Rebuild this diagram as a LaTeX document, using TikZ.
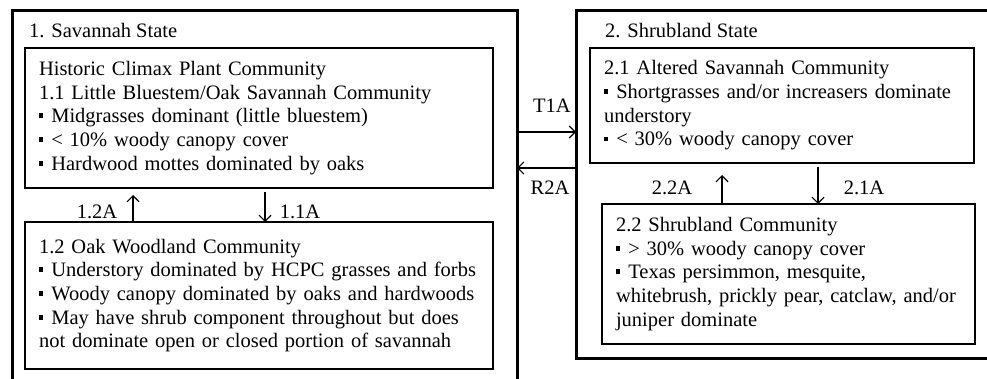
\documentclass[tikz,border=0pt]{standalone}
\usepackage{fontspec}
\setmainfont{Liberation Serif}
\usetikzlibrary{arrows.meta}
\newcommand\sqb{\raisebox{0.22em}{\rule{0.2em}{0.24em}}\hspace{0.4em}}
\begin{document}
\begin{tikzpicture}[x=1pt,y=-1pt,
  font=\fontsize{20.5}{23.7}\selectfont,
  outerbox/.style={draw, line width=3pt, rectangle, outer sep=0pt, anchor=north west, inner sep=0pt},
  innerbox/.style={draw, line width=1.4pt, rectangle, outer sep=0pt, anchor=north west,
     inner xsep=14pt, inner ysep=0pt, align=left},
  arr/.style={line width=1.1pt, -{Straight Barb[length=6pt,width=12pt,line width=1.1pt]}},
  lbl/.style={inner sep=0pt}
]
\useasboundingbox (0,0) rectangle (987,379);
\fill[white] (0,0) rectangle (987,379);
\clip (0,0) rectangle (987,379);

% outer state boxes
\node[outerbox, minimum width=505pt, minimum height=420pt] (s1) at (12,11) {};
\node[outerbox, minimum width=440pt, minimum height=347pt] (s2) at (576,11) {};

\node[lbl, anchor=base west] (t1) at (29,38) {1. Savannah State};
\node[lbl, anchor=base west] (t2) at (605,38) {2. Shrubland State};

% community boxes
\node[innerbox, text width=440pt, minimum height=140pt] (b11) at (25,48)
 {Historic Climax Plant Community\\
  1.1 Little Bluestem/Oak Savannah Community\\
  \sqb Midgrasses dominant (little bluestem)\\
  \sqb < 10\% woody canopy cover\\
  \sqb Hardwood mottes dominated by oaks};

\node[innerbox, text width=440pt, minimum height=147pt] (b12) at (25,222)
 {1.2 Oak Woodland Community\\
  \sqb Understory dominated by HCPC grasses and forbs\\
  \sqb Woody canopy dominated by oaks and hardwoods\\
  \sqb May have shrub component throughout but does\\
  not dominate open or closed portion of savannah};

\node[innerbox, text width=356pt, minimum height=115pt] (b21) at (590,48)
 {2.1 Altered Savannah Community\\
  \sqb Shortgrasses and/or increasers dominate\\
  understory\\
  \sqb < 30\% woody canopy cover};

\node[innerbox, text width=345pt, minimum height=140pt] (b22) at (602,204)
 {2.2 Shrubland Community\\
  \sqb > 30\% woody canopy cover\\
  \sqb Texas persimmon, mesquite,\\
  whitebrush, prickly pear, catclaw, and/or\\
  juniper dominate};

% transitions between states
\draw[arr] (s1.east |- 0,132) -- (s2.west |- 0,132);
\draw[arr] (s2.west |- 0,168) -- (s1.east |- 0,168);
\node[lbl] (lt1a) at (552,106) {T1A};
\node[lbl] (lr2a) at (550,188) {R2A};

% within-state pathways
\draw[arr, shorten >=7pt] (b12.north -| 133,0) -- (b11.south -| 133,0);
\draw[arr, shorten <=4pt] (b11.south -| 265,0) -- (b12.north -| 265,0);
\node[lbl] (l12a) at (97,212) {1.2A};
\node[lbl] (l11a) at (300,212) {1.1A};

\draw[arr, shorten >=12pt] (b22.north -| 722,0) -- (b21.south -| 722,0);
\draw[arr, shorten <=4pt] (b21.south -| 818,0) -- (b22.north -| 818,0);
\node[lbl] (l22a) at (672,188) {2.2A};
\node[lbl] (l21a) at (864,188) {2.1A};
\end{tikzpicture}
\end{document}
